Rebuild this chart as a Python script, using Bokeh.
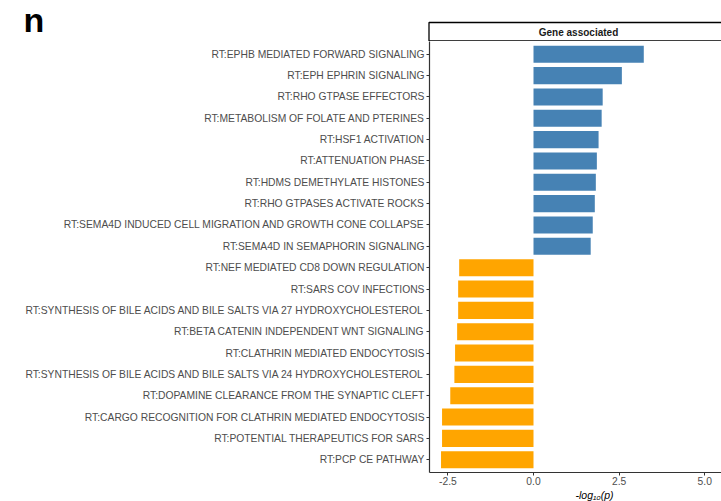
from bokeh.plotting import figure
from bokeh.layouts import column
from bokeh.models import ColumnDataSource, FixedTicker, Range1d
from bokeh.embed import file_html
from bokeh.resources import INLINE
from bokeh.core.properties import value

pathways = [
    "RT:EPHB MEDIATED FORWARD SIGNALING",
    "RT:EPH EPHRIN SIGNALING",
    "RT:RHO GTPASE EFFECTORS",
    "RT:METABOLISM OF FOLATE AND PTERINES",
    "RT:HSF1 ACTIVATION",
    "RT:ATTENUATION PHASE",
    "RT:HDMS DEMETHYLATE HISTONES",
    "RT:RHO GTPASES ACTIVATE ROCKS",
    "RT:SEMA4D INDUCED CELL MIGRATION AND GROWTH CONE COLLAPSE",
    "RT:SEMA4D IN SEMAPHORIN SIGNALING",
    "RT:NEF MEDIATED CD8 DOWN REGULATION",
    "RT:SARS COV INFECTIONS",
    "RT:SYNTHESIS OF BILE ACIDS AND BILE SALTS VIA 27 HYDROXYCHOLESTEROL",
    "RT:BETA CATENIN INDEPENDENT WNT SIGNALING",
    "RT:CLATHRIN MEDIATED ENDOCYTOSIS",
    "RT:SYNTHESIS OF BILE ACIDS AND BILE SALTS VIA 24 HYDROXYCHOLESTEROL",
    "RT:DOPAMINE CLEARANCE FROM THE SYNAPTIC CLEFT",
    "RT:CARGO RECOGNITION FOR CLATHRIN MEDIATED ENDOCYTOSIS",
    "RT:POTENTIAL THERAPEUTICS FOR SARS",
    "RT:PCP CE PATHWAY",
]
neg_log_p = [3.22, 2.58, 2.02, 1.99, 1.90, 1.85, 1.82, 1.79, 1.73, 1.67,
             -2.17, -2.20, -2.20, -2.23, -2.29, -2.31, -2.43, -2.67, -2.67, -2.70]
x_ticks = [-2.5, 0.0, 2.5, 5.0]
facet_label = "Gene associated"
panel_letter = "n"
x_title = "-log\u2081\u2080(p)"

BLUE = "#4682B4"
ORANGE = "#FFA500"
GREY = "#4D4D4D"
FONT = "Liberation Sans"

W = 721
TOP_H = 41            # canvas rows 0..41: panel letter + facet strip
frame_left = 429
frame_bottom_canvas = 472
MAIN_BOTTOM = 16
MAIN_H = frame_bottom_canvas - TOP_H + MAIN_BOTTOM
BOT_H = 501 - TOP_H - MAIN_H

px_per_unit_x = 34.25
x0_px = 533
x_start = (frame_left - x0_px) / px_per_unit_x
x_end = (W - x0_px) / px_per_unit_x

n = len(pathways)
ypos = [n - i for i in range(n)]
colors = [BLUE if v > 0 else ORANGE for v in neg_log_p]
src = ColumnDataSource(dict(y=ypos, right=neg_log_p, left=[0] * n, color=colors, name=pathways))


def blank(h):
    f = figure(width=W, height=h, output_backend="svg", toolbar_location=None,
               x_range=Range1d(0, W), y_range=Range1d(h, 0),
               x_axis_location=None, y_axis_location=None,
               min_border=0, min_border_left=0, min_border_right=0,
               min_border_top=0, min_border_bottom=0, frame_align=False)
    f.outline_line_color = None
    f.grid.visible = False
    f.background_fill_color = "white"
    f.border_fill_color = "white"
    return f


# ---- top strip: panel letter + facet label
top = blank(TOP_H)
top.text(x=[23], y=[0.5], text=[panel_letter], text_font=value(FONT), text_font_style="bold",
         text_font_size="34px", text_align="left", text_baseline="top", text_color="black")
top.quad(left=[frame_left - 0.5], right=[W + 20], top=[22], bottom=[40.4],
         fill_color="white", line_color="black", line_width=1.3)
top.text(x=[578], y=[31.5], text=[facet_label], text_font=value(FONT), text_font_style="bold",
         text_font_size="10px", text_align="center", text_baseline="middle", text_color="#1A1A1A")

# ---- main panel
p = figure(width=W, height=MAIN_H, output_backend="svg", toolbar_location=None,
           x_range=Range1d(x_start, x_end), y_range=Range1d(0.4, n + 0.6),
           min_border_left=frame_left, min_border_right=0,
           min_border_top=0, min_border_bottom=MAIN_BOTTOM, frame_align=False)
p.outline_line_color = None
p.grid.visible = False
p.background_fill_color = "white"
p.border_fill_color = "white"

p.hbar(y="y", left="left", right="right", height=0.8, color="color", line_color=None, source=src)

for ax in (p.xaxis[0], p.yaxis[0]):
    ax.axis_line_color = "#333333"
    ax.axis_line_width = 1.2
    ax.major_tick_line_color = "#333333"
    ax.major_tick_out = 3
    ax.major_tick_in = 0
    ax.minor_tick_line_color = None
    ax.major_label_text_color = GREY
    ax.major_label_text_font = FONT
    ax.major_label_text_font_size = "10.3px"
    ax.major_label_standoff = 2
p.xaxis.major_label_standoff = 1

p.yaxis.ticker = FixedTicker(ticks=ypos)
p.yaxis.major_label_overrides = {int(y): name for y, name in zip(ypos, pathways)}
p.xaxis.ticker = FixedTicker(ticks=x_ticks)
p.xaxis.major_label_overrides = {t: f"{t:.1f}" for t in x_ticks}

# ---- bottom: x axis title
bot = blank(BOT_H)
bot.text(x=[594], y=[0.5], text=[x_title], text_font=value(FONT), text_font_style="italic",
         text_font_size="10.5px", text_align="center", text_baseline="top", text_color="black")

layout = column(top, p, bot, spacing=0)
open("out.html", "w").write(file_html(layout, INLINE))
